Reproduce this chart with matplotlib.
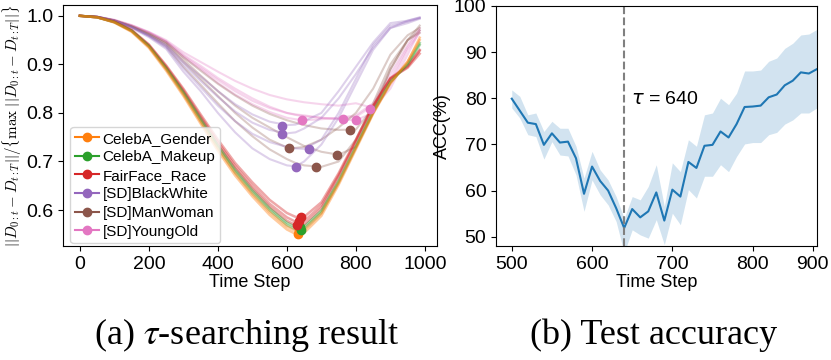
import matplotlib.pyplot as plt

plt.rcParams['font.family'] = ['Liberation Sans', 'DejaVu Sans']

# ---- (a) tau-searching: normalised distance per time step, several runs per dataset
steps = [0, 50, 100, 150, 200, 250, 300, 350, 400, 450, 500, 550,
         600, 625, 650, 700, 750, 800, 850, 900, 950, 985]

gender_runs = [
    [1.0, 0.997, 0.986, 0.967, 0.934, 0.887, 0.835, 0.778, 0.722, 0.671, 0.628, 0.590,
     0.560, 0.551, 0.553, 0.588, 0.652, 0.725, 0.798, 0.860, 0.905, 0.955],
    [1.0, 0.997, 0.987, 0.968, 0.936, 0.890, 0.838, 0.782, 0.727, 0.676, 0.633, 0.596,
     0.566, 0.557, 0.559, 0.593, 0.656, 0.728, 0.800, 0.862, 0.906, 0.950],
]
makeup_runs = [
    [1.0, 0.997, 0.987, 0.969, 0.937, 0.891, 0.840, 0.784, 0.729, 0.678, 0.636, 0.599,
     0.569, 0.560, 0.561, 0.595, 0.657, 0.729, 0.801, 0.863, 0.902, 0.944],
    [1.0, 0.997, 0.987, 0.969, 0.938, 0.893, 0.843, 0.788, 0.733, 0.683, 0.641, 0.604,
     0.574, 0.565, 0.566, 0.599, 0.660, 0.731, 0.803, 0.864, 0.900, 0.940],
]
race_runs = [
    [1.0, 0.997, 0.987, 0.970, 0.938, 0.894, 0.844, 0.789, 0.735, 0.686, 0.644, 0.607,
     0.578, 0.569, 0.570, 0.604, 0.668, 0.740, 0.812, 0.870, 0.895, 0.928],
    [1.0, 0.997, 0.988, 0.970, 0.940, 0.896, 0.847, 0.793, 0.740, 0.691, 0.650, 0.613,
     0.585, 0.576, 0.577, 0.610, 0.672, 0.743, 0.814, 0.871, 0.893, 0.922],
    [1.0, 0.997, 0.988, 0.971, 0.941, 0.898, 0.850, 0.797, 0.745, 0.697, 0.657, 0.621,
     0.594, 0.586, 0.586, 0.616, 0.676, 0.745, 0.815, 0.872, 0.897, 0.930],
]
bw_runs = [
    [1.0, 0.998, 0.990, 0.977, 0.960, 0.940, 0.905, 0.875, 0.845, 0.818, 0.797, 0.782,
     0.775, 0.776, 0.783, 0.800, 0.845, 0.895, 0.945, 0.985, 0.990, 0.996],
    [1.0, 0.998, 0.990, 0.977, 0.959, 0.937, 0.900, 0.866, 0.833, 0.803, 0.780, 0.765,
     0.758, 0.760, 0.768, 0.790, 0.830, 0.880, 0.935, 0.975, 0.990, 0.997],
    [1.0, 0.998, 0.990, 0.976, 0.958, 0.935, 0.892, 0.853, 0.815, 0.783, 0.757, 0.740,
     0.730, 0.727, 0.726, 0.745, 0.800, 0.870, 0.940, 0.980, 0.988, 0.995],
    [1.0, 0.998, 0.989, 0.975, 0.956, 0.932, 0.885, 0.845, 0.800, 0.760, 0.727, 0.705,
     0.692, 0.690, 0.700, 0.735, 0.790, 0.860, 0.930, 0.975, 0.985, 0.994],
]
mw_runs = [
    [1.0, 0.998, 0.990, 0.978, 0.962, 0.942, 0.905, 0.870, 0.835, 0.800, 0.770, 0.745,
     0.729, 0.728, 0.730, 0.745, 0.770, 0.800, 0.850, 0.920, 0.960, 0.975],
    [1.0, 0.998, 0.990, 0.977, 0.960, 0.938, 0.895, 0.858, 0.820, 0.783, 0.752, 0.725,
     0.705, 0.697, 0.692, 0.689, 0.700, 0.745, 0.820, 0.900, 0.950, 0.965],
    [1.0, 0.998, 0.990, 0.978, 0.962, 0.943, 0.910, 0.877, 0.845, 0.815, 0.790, 0.770,
     0.750, 0.741, 0.732, 0.720, 0.714, 0.730, 0.800, 0.890, 0.950, 0.970],
    [1.0, 0.998, 0.991, 0.979, 0.964, 0.946, 0.915, 0.887, 0.860, 0.836, 0.815, 0.798,
     0.785, 0.780, 0.775, 0.768, 0.765, 0.766, 0.810, 0.890, 0.950, 0.980],
]
yo_runs = [
    [1.0, 0.998, 0.991, 0.980, 0.965, 0.946, 0.915, 0.890, 0.862, 0.838, 0.818, 0.802,
     0.790, 0.787, 0.785, 0.787, 0.790, 0.795, 0.820, 0.880, 0.940, 0.975],
    [1.0, 0.998, 0.991, 0.980, 0.966, 0.948, 0.920, 0.897, 0.872, 0.850, 0.830, 0.813,
     0.800, 0.796, 0.793, 0.790, 0.788, 0.792, 0.815, 0.870, 0.935, 0.970],
    [1.0, 0.998, 0.991, 0.980, 0.966, 0.947, 0.918, 0.893, 0.868, 0.845, 0.825, 0.810,
     0.800, 0.797, 0.795, 0.790, 0.787, 0.785, 0.800, 0.860, 0.930, 0.965],
    [1.0, 0.998, 0.992, 0.981, 0.967, 0.950, 0.925, 0.905, 0.885, 0.866, 0.850, 0.837,
     0.828, 0.825, 0.822, 0.818, 0.815, 0.820, 0.810, 0.850, 0.920, 0.970],
]

# found tau (minimum) of every run
gender_tau_x = [631, 636]
gender_tau_y = [0.551, 0.557]
makeup_tau_x = [640, 638]
makeup_tau_y = [0.559, 0.565]
race_tau_x = [630, 636, 640]
race_tau_y = [0.569, 0.577, 0.586]
bw_tau_x = [587, 587, 665, 625]
bw_tau_y = [0.774, 0.757, 0.725, 0.689]
mw_tau_x = [607, 684, 744, 782]
mw_tau_y = [0.728, 0.688, 0.714, 0.764]
yo_tau_x = [645, 762, 801, 840]
yo_tau_y = [0.785, 0.788, 0.785, 0.808]

# ---- (b) test accuracy around tau
acc_steps = list(range(500, 881, 10))
acc_mean = [79.9, 77.3, 74.7, 74.4, 69.9, 72.4, 70.4, 70.6, 67.0, 59.3,
            65.2, 62.1, 60.0, 56.2, 51.9, 56.0, 54.2, 55.5, 59.6, 53.5,
            60.2, 58.7, 66.2, 64.9, 69.7, 69.9, 72.8, 71.5, 74.4, 78.1,
            78.2, 78.4, 80.2, 80.8, 82.8, 83.8, 85.6, 85.35, 86.3]
acc_upper = [81.8, 80.4, 76.4, 76.8, 72.8, 75.0, 73.5, 73.5, 69.6, 62.7,
             68.5, 64.5, 62.3, 58.7, 54.0, 58.7, 58.0, 60.9, 65.6, 56.6,
             66.0, 64.1, 71.0, 69.6, 76.4, 76.8, 80.0, 78.6, 81.1, 85.9,
             85.9, 86.1, 88.0, 88.7, 90.8, 91.9, 93.7, 93.9, 94.9]
acc_lower = [77.9, 75.7, 72.1, 71.7, 66.8, 70.6, 67.7, 67.5, 63.4, 55.5,
             62.3, 59.1, 56.9, 53.3, 46.5, 51.5, 50.4, 49.7, 53.7, 48.3,
             55.1, 52.6, 60.2, 58.4, 63.1, 63.1, 65.6, 64.1, 67.4, 70.1,
             70.4, 70.4, 72.1, 72.6, 74.4, 75.3, 76.8, 76.8, 77.9]
tau = 640

datasets = [
    ('CelebA_Gender', '#ff7f0e', gender_runs, gender_tau_x, gender_tau_y),
    ('CelebA_Makeup', '#2ca02c', makeup_runs, makeup_tau_x, makeup_tau_y),
    ('FairFace_Race', '#d62728', race_runs, race_tau_x, race_tau_y),
    ('[SD]BlackWhite', '#9467bd', bw_runs, bw_tau_x, bw_tau_y),
    ('[SD]ManWoman', '#8c564b', mw_runs, mw_tau_x, mw_tau_y),
    ('[SD]YoungOld', '#e377c2', yo_runs, yo_tau_x, yo_tau_y),
]

fig = plt.figure(figsize=(8.31, 3.6), dpi=100)
ax1 = fig.add_axes([0.0758, 0.3167, 0.450, 0.669])
ax2 = fig.add_axes([0.597, 0.3167, 0.386, 0.667])

# SD curves drawn first (faint), then face datasets on top
for name, c, runs, tx, ty in datasets[::-1]:
    sd = name.startswith('[SD]')
    for r in runs:
        ax1.plot(steps, r, color=c, lw=1.5 if sd else 1.8,
                 alpha=0.3 if sd else 0.4)
for name, c, runs, tx, ty in datasets:
    ax1.plot(tx, ty, 'o', color=c, ms=6, zorder=5)
    ax1.plot([], [], '-o', color=c, ms=6, lw=1.5, label=name)

ax1.set_xlim(-49, 1035)
ax1.set_ylim(0.526, 1.022)
ax1.set_xticks([0, 200, 400, 600, 800, 1000])
ax1.set_yticks([0.6, 0.7, 0.8, 0.9, 1.0])
ax1.tick_params(labelsize=14)
ax1.set_xlabel('Time Step', fontsize=13, labelpad=1)
ax1.set_ylabel(r'$||D_{0:t} - D_{t:T}||/\{\max\ ||D_{0:t} - D_{t:T}||\}$',
               fontsize=10.8, math_fontfamily='cm', labelpad=2)
ax1.legend(loc='lower left', bbox_to_anchor=(0.02, 0.012), borderaxespad=0,
           fontsize=11, labelspacing=0.3, handlelength=1.6,
           handletextpad=0.2, borderpad=0.3)

ax2.fill_between(acc_steps, acc_lower, acc_upper, color='#1f77b4', alpha=0.2, lw=0)
ax2.plot(acc_steps, acc_mean, color='#1f77b4', lw=1.5)
ax2.axvline(tau, color='grey', ls='--', lw=1.5)
ax2.text(648, 79.7, r'$\tau$ = 640', fontsize=14, va='center', ha='left')
ax2.set_xlim(480.5, 880)
ax2.set_ylim(48, 100)
ax2.set_xticks([500, 600, 700, 800, 875], ['500', '600', '700', '800', '900'])
ax2.set_yticks([50, 60, 70, 80, 90, 100])
ax2.tick_params(labelsize=14)
ax2.set_xlabel('Time Step', fontsize=13, labelpad=1)
ax2.set_ylabel('ACC(%)', fontsize=13, labelpad=2)

fig.text(0.297, 0.069, r'(a) $\tau$-searching result', ha='center', va='center',
         fontsize=26, family='Liberation Serif', math_fontfamily='stix')
fig.text(0.787, 0.069, '(b) Test accuracy', ha='center', va='center',
         fontsize=26, family='Liberation Serif')

fig.savefig('out.png', dpi=100)
